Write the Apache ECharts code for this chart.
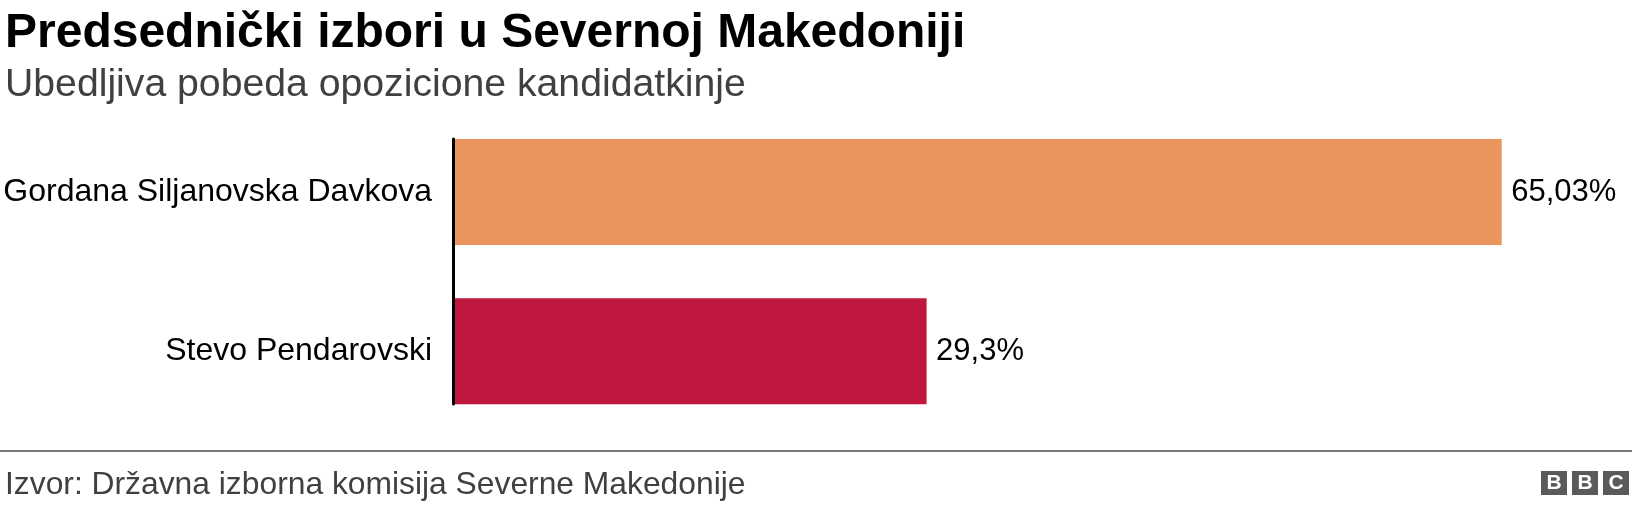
<!DOCTYPE html>
<html>
<head>
<meta charset="utf-8">
<script src="https://cdn.jsdelivr.net/npm/echarts@6/dist/echarts.min.js"></script>
<style>
html,body{margin:0;padding:0;background:#fff;}
#chart{width:1632px;height:506px;}
</style>
</head>
<body>
<div id="chart"></div>
<script>
const titleText = 'Predsednički izbori u Severnoj Makedoniji';
const subtitleText = 'Ubedljiva pobeda opozicione kandidatkinje';
const sourceText = 'Izvor: Državna izborna komisija Severne Makedonije';
const categories = ['Gordana Siljanovska Davkova', 'Stevo Pendarovski'];
const values = [65.03, 29.3];
const barColors = ['#E9965E', '#BF173D'];
const valueLabels = ['65,03%', '29,3%'];

const FONT = '"Liberation Sans", Arial, Helvetica, sans-serif';
const chart = echarts.init(document.getElementById('chart'), null, {renderer: 'canvas'});

const option = {
  backgroundColor: '#ffffff',
  animation: false,
  title: [
    {text: titleText, left: 0, top: 5,
     textStyle: {fontFamily: FONT, fontSize: 48, fontWeight: 'bold', color: '#000000'}},
    {text: subtitleText, left: 0, top: 61,
     textStyle: {fontFamily: FONT, fontSize: 39.2, fontWeight: 'normal', color: '#404040'}},
    {text: sourceText, left: 0, top: 464,
     textStyle: {fontFamily: FONT, fontSize: 31.8, fontWeight: 'normal', color: '#404040'}}
  ],
  grid: [
    {left: 455, right: 50.3, top: 112.4, height: 318.5},
    {left: 453.5, right: 50.3, top: 139, height: 265}
  ],
  xAxis: [
    {type: 'value', gridIndex: 0, min: 0, max: 70, show: false},
    {type: 'value', gridIndex: 1, min: 0, max: 1, show: false}
  ],
  yAxis: [
    {type: 'category', gridIndex: 0, data: categories, inverse: true,
     axisLine: {show: false}, axisTick: {show: false}, splitLine: {show: false},
     axisLabel: {margin: 23, fontFamily: FONT, fontSize: 32, color: '#000000'}},
    {type: 'value', gridIndex: 1, min: 0, max: 1, z: 10,
     axisLine: {show: true, lineStyle: {color: '#000000', width: 3}},
     axisTick: {show: false}, axisLabel: {show: false}, splitLine: {show: false}}
  ],
  series: [{
    type: 'bar',
    xAxisIndex: 0, yAxisIndex: 0,
    barWidth: 106,
    data: values.map((v, i) => ({value: v, itemStyle: {color: barColors[i]}})),
    label: {
      show: true, position: 'right', distance: 9.5,
      fontFamily: FONT, fontSize: 31, color: '#000000',
      formatter: p => valueLabels[p.dataIndex]
    }
  }],
  graphic: [
    {type: 'rect', shape: {x: 0, y: 450, width: 1632, height: 2}, style: {fill: '#777777'}, silent: true},
    {type: 'group', left: 1541, top: 471, children: [
      {type: 'rect', shape: {x: 0, y: 0, width: 26, height: 24}, style: {fill: '#5a5a5a'}},
      {type: 'rect', shape: {x: 31, y: 0, width: 26, height: 24}, style: {fill: '#5a5a5a'}},
      {type: 'rect', shape: {x: 62, y: 0, width: 26, height: 24}, style: {fill: '#5a5a5a'}},
      {type: 'text', x: 13, y: 12.5, style: {text: 'B', fill: '#ffffff', font: 'bold 21px ' + FONT, textAlign: 'center', textVerticalAlign: 'middle'}},
      {type: 'text', x: 44, y: 12.5, style: {text: 'B', fill: '#ffffff', font: 'bold 21px ' + FONT, textAlign: 'center', textVerticalAlign: 'middle'}},
      {type: 'text', x: 75, y: 12.5, style: {text: 'C', fill: '#ffffff', font: 'bold 21px ' + FONT, textAlign: 'center', textVerticalAlign: 'middle'}}
    ]}
  ]
};
chart.setOption(option);
</script>
</body>
</html>
